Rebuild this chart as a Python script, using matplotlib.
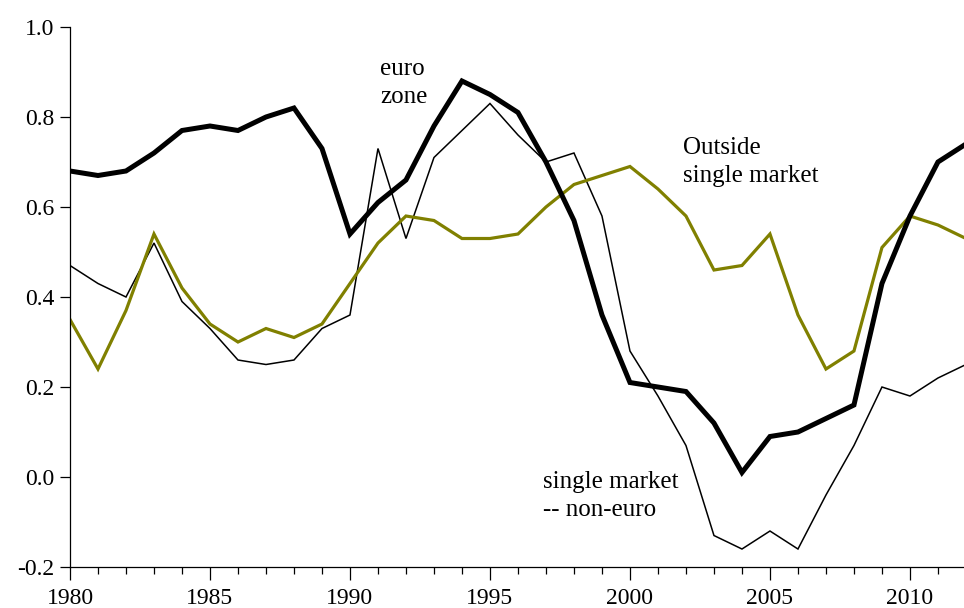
import matplotlib.pyplot as plt
from matplotlib.ticker import MultipleLocator, FormatStrFormatter

years = list(range(1980, 2013))

euro_zone = [0.68, 0.67, 0.68, 0.72, 0.77, 0.78, 0.77, 0.80, 0.82, 0.73,
             0.54, 0.61, 0.66, 0.78, 0.88, 0.85, 0.81, 0.70, 0.57, 0.36,
             0.21, 0.20, 0.19, 0.12, 0.01, 0.09, 0.10, 0.13, 0.16, 0.43,
             0.58, 0.70, 0.74]

single_non_euro = [0.47, 0.43, 0.40, 0.52, 0.39, 0.33, 0.26, 0.25, 0.26, 0.33,
                   0.36, 0.73, 0.53, 0.71, 0.77, 0.83, 0.76, 0.70, 0.72, 0.58,
                   0.28, 0.18, 0.07, -0.13, -0.16, -0.12, -0.16, -0.04, 0.07, 0.20,
                   0.18, 0.22, 0.25]

outside_single = [0.35, 0.24, 0.37, 0.54, 0.42, 0.34, 0.30, 0.33, 0.31, 0.34,
                  0.43, 0.52, 0.58, 0.57, 0.53, 0.53, 0.54, 0.60, 0.65, 0.67,
                  0.69, 0.64, 0.58, 0.46, 0.47, 0.54, 0.36, 0.24, 0.28, 0.51,
                  0.58, 0.56, 0.53]

plt.rcParams['font.family'] = ['Liberation Serif', 'DejaVu Serif']

fig = plt.figure(figsize=(9.64, 6.08), dpi=100)
ax = fig.add_axes([0.0726, 0.0674, 0.9274, 0.8882])

ax.plot(years, single_non_euro, color='black', lw=1.1, solid_joinstyle='miter')
ax.plot(years, outside_single, color='#808000', lw=2.3, solid_joinstyle='miter')
ax.plot(years, euro_zone, color='black', lw=3.6, solid_joinstyle='miter')

ax.set_xlim(1980, 2011.93)
ax.set_ylim(-0.2, 1.0)

ax.spines['top'].set_visible(False)
ax.spines['right'].set_visible(False)
ax.spines['left'].set_linewidth(0.9)
ax.spines['bottom'].set_linewidth(0.9)

ax.xaxis.set_major_locator(MultipleLocator(5))
ax.xaxis.set_minor_locator(MultipleLocator(1))
ax.yaxis.set_major_locator(MultipleLocator(0.2))
ax.yaxis.set_major_formatter(FormatStrFormatter('%.1f'))

ax.tick_params(axis='x', which='major', direction='out', length=9, width=0.9,
               labelsize=17, pad=6)
ax.tick_params(axis='x', which='minor', direction='out', length=5, width=0.9)
ax.tick_params(axis='y', which='major', direction='out', length=7, width=0.9,
               labelsize=17, pad=4)

label_style = dict(fontsize=18, linespacing=1.35, va='center', ha='left')
ax.text(1991.07, 0.876, 'euro\nzone', **label_style)
ax.text(2001.9, 0.70, 'Outside\nsingle market', **label_style)
ax.text(1996.9, -0.042, 'single market\n-- non-euro', **label_style)

fig.savefig('out.png', dpi=100)
